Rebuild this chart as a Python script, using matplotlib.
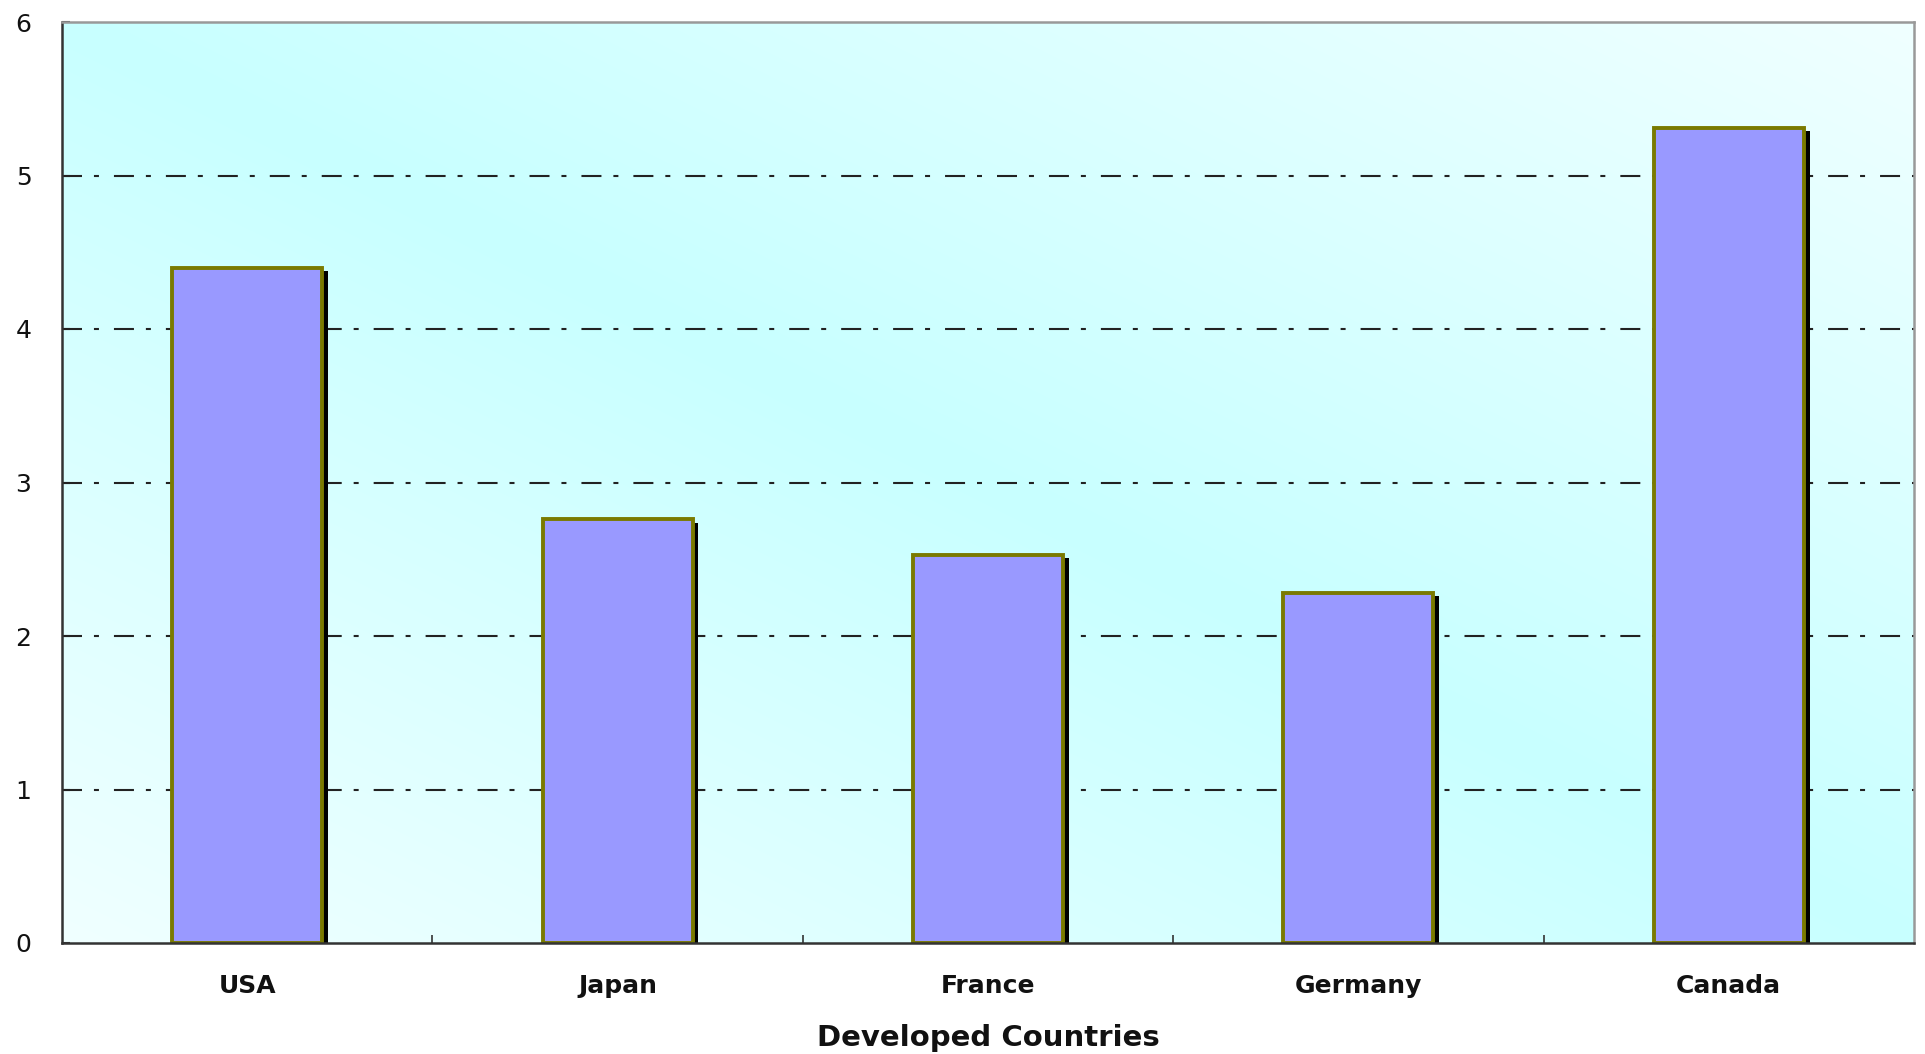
import numpy as np
import matplotlib
matplotlib.use("Agg")
import matplotlib.pyplot as plt
import matplotlib.patheffects as pe
from matplotlib.colors import to_rgb

categories = ["USA", "Japan", "France", "Germany", "Canada"]
values = [4.40, 2.76, 2.53, 2.28, 5.31]
yticks = [0, 1, 2, 3, 4, 5, 6]
xlabel = "Developed Countries"

plt.rcParams['font.family'] = ['DejaVu Sans']
plt.rcParams['lines.scale_dashes'] = False

fig = plt.figure(figsize=(19.25, 10.54), dpi=100)
ax = fig.add_axes([62/1925, 111/1054, (1914-62)/1925, (943-22)/1054])

# background gradient
n = 300
xx, yy = np.meshgrid(np.linspace(0, 1, n), np.linspace(0, 1, n))
u = (xx + yy) / 2
s = 1 - 2 * np.abs(u - 0.5)
c_light = np.array(to_rgb("#f0ffff"))
c_cyan = np.array(to_rgb("#c8ffff"))
img = c_light[None, None, :] * (1 - s[..., None]) + c_cyan[None, None, :] * s[..., None]
ax.imshow(img, extent=[0, 1, 0, 1], transform=ax.transAxes, origin="lower",
          aspect="auto", zorder=0, interpolation="bilinear")

x = np.arange(len(categories))
bars = ax.bar(x, values, width=0.405, color="#9999ff", edgecolor="#7a7a00",
              linewidth=2.8, zorder=3)
for b in bars:
    b.set_path_effects([pe.SimplePatchShadow(offset=(4.2, -2.4), shadow_rgbFace="black", alpha=1.0),
                        pe.Normal()])

ax.set_xlim(-0.5, len(categories) - 0.5)
ax.set_ylim(0, 6)
ax.set_yticks(yticks)
ax.set_yticklabels([str(v) for v in yticks], fontsize=18, color="#111111")
ax.set_xticks(x)
ax.set_xticklabels(categories, fontsize=18, fontweight="bold", color="#111111")
ax.set_xticks(np.arange(0.5, len(categories) - 0.5, 1), minor=True)
ax.tick_params(axis="x", which="major", length=0, pad=22)
ax.tick_params(axis="x", which="minor", length=6, width=1.2, direction="in", color="#333333")
ax.tick_params(axis="y", which="major", length=6, width=1.5, direction="in", color="#333333", pad=22)

for yv in yticks[1:-1]:
    ax.axhline(yv, color="#222222", linewidth=1.5, linestyle=(0, (14.4, 8.6, 3.6, 10.8)), zorder=2)

ax.set_xlabel(xlabel, fontsize=21, fontweight="bold", color="#111111", labelpad=19)

for side in ["left", "bottom"]:
    ax.spines[side].set_color("#333333")
    ax.spines[side].set_linewidth(1.8)
for side in ["top", "right"]:
    ax.spines[side].set_color("#999999")
    ax.spines[side].set_linewidth(1.8)
for sp in ax.spines.values():
    sp.set_zorder(5)

fig.savefig("out.png", dpi=100)
